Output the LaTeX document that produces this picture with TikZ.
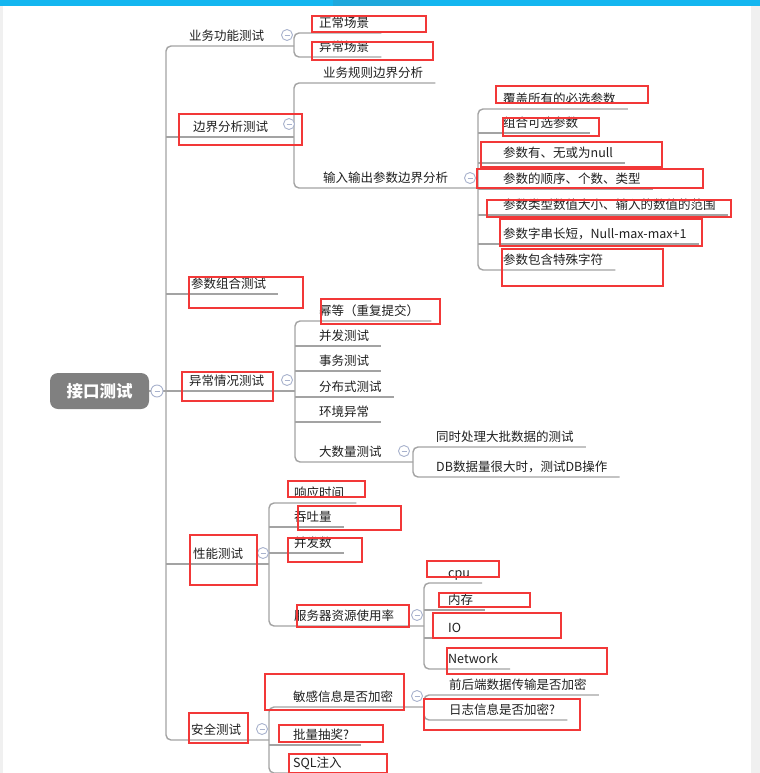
\documentclass[tikz,border=0pt]{standalone}
\usepackage{fontspec}
\setmainfont{Noto Sans CJK SC}
\usepackage{xcolor}
\usepackage{tikz}
\usetikzlibrary{positioning,calc}
\definecolor{linegray}{RGB}{163,163,163}
\definecolor{txtgray}{RGB}{32,32,32}
\definecolor{rootgray}{RGB}{128,128,128}
\definecolor{foldblue}{RGB}{168,178,205}
\definecolor{markred}{RGB}{242,56,56}
\definecolor{topbar}{RGB}{20,182,240}
\definecolor{topbardark}{RGB}{30,168,220}
\definecolor{sidegray}{RGB}{240,240,240}
\tikzset{
  topic/.style={anchor=south west, inner xsep=12bp, inner ysep=3bp, text height=9bp, text depth=2.25bp, text=txtgray, font=\fontsize{12.5bp}{15bp}\selectfont},
  rootbox/.style={rounded corners=8bp, fill=rootgray, text=white, minimum width=99bp, minimum height=36bp, inner sep=0pt, font=\fontsize{16.5bp}{20bp}\selectfont\bfseries},
  branch/.style={draw=linegray, line width=1.4bp, rounded corners=5bp},
  fold/.style={circle, draw=foldblue, line width=0.9bp, fill=white, minimum size=11bp, inner sep=0pt,
    path picture={\draw[foldblue, line width=0.9bp] ([xshift=-2.5bp]path picture bounding box.center) -- ([xshift=2.5bp]path picture bounding box.center);}},
  redbox/.style={draw=markred, line width=2.8bp},
}

\begin{document}
\begin{tikzpicture}[x=1bp, y=-1bp]
  % page frame
  \useasboundingbox (0,0) rectangle (760,773);
  \fill[white] (0,0) rectangle (760,773);
  \fill[topbar] (0,0) rectangle (760,6);
  \fill[topbardark] (333,0) rectangle (420,6);
  \fill[sidegray] (0,6) rectangle (3,773);
  \fill[sidegray] (751,6) rectangle (760,773);

  % junction columns
  \coordinate (jT) at (166,0);
  \coordinate (jA) at (294,0);
  \coordinate (jB) at (294,0);
  \coordinate (jB2) at (478,0);
  \coordinate (jD) at (295,0);
  \coordinate (jD6) at (413,0);
  \coordinate (jE) at (269,0);
  \coordinate (jE4) at (424,0);
  \coordinate (jF) at (269,0);
  \coordinate (jF1) at (424,0);

  % root
  \node[rootbox] (root) at (99.5,391) {接口测试};

  % first level
  \node[topic] (A) at (177,46) {业务功能测试};
  \node[topic] (B) at (181,137) {边界分析测试};
  \node[topic] (C) at (179,294) {参数组合测试};
  \node[topic] (D) at (177,391) {异常情况测试};
  \node[topic] (E) at (181,564) {性能测试};
  \node[topic] (F) at (179,740) {安全测试};

  % 业务功能测试
  \node[topic] (a1) at (307,33) {正常场景};
  \node[topic] (a2) at (307,57) {异常场景};

  % 边界分析测试
  \node[topic] (b1) at (311,83) {业务规则边界分析};
  \node[topic] (b2) at (311,188) {输入输出参数边界分析};
  \node[topic] (k1) at (491,109) {覆盖所有的必选参数};
  \node[topic] (k2) at (491,133) {组合可选参数};
  \node[topic] (k3) at (491,163) {参数有、无或为null};
  \node[topic] (k4) at (491,189) {参数的顺序、个数、类型};
  \node[topic] (k5) at (491,215) {参数类型数值大小、输入的数值的范围};
  \node[topic] (k6) at (491,244) {参数字串长短，Null-max-max+1};
  \node[topic] (k7) at (491,270) {参数包含特殊字符};

  % 异常情况测试
  \node[topic] (d1) at (307,321) {幂等（重复提交）};
  \node[topic] (d2) at (307,346) {并发测试};
  \node[topic] (d3) at (307,371) {事务测试};
  \node[topic] (d4) at (307,397) {分布式测试};
  \node[topic] (d5) at (307,422) {环境异常};
  \node[topic] (d6) at (307,462) {大数量测试};
  \node[topic] (g1) at (424,447) {同时处理大批数据的测试};
  \node[topic] (g2) at (424,477) {DB数据量很大时，测试DB操作};

  % 性能测试
  \node[topic] (e1) at (282,503) {响应时间};
  \node[topic] (e2) at (282,527) {吞吐量};
  \node[topic] (e3) at (282,553) {并发数};
  \node[topic] (e4) at (282,626) {服务器资源使用率};
  \node[topic] (s1) at (436,583) {cpu};
  \node[topic] (s2) at (436,610) {内存};
  \node[topic] (s3) at (436,638) {IO};
  \node[topic] (s4) at (436,669) {Network};

  % 安全测试
  \node[topic] (f1) at (281,707) {敏感信息是否加密};
  \node[topic] (f2) at (281,745) {批量抽奖?};
  \node[topic] (f3) at (281,773) {SQL注入};
  \node[topic] (h1) at (437,695) {前后端数据传输是否加密};
  \node[topic] (h2) at (437,720) {日志信息是否加密?};

  % trunk
  \draw[branch] (root.east) -- (root.east -| jT);
  \draw[branch] (jA |- A.south) -- (jT |- A.south) -- (jT |- F.south) -- (jF |- F.south);
  \draw[branch] (jT |- B.south) -- (jB |- B.south);
  \draw[branch] (jT |- C.south) -- (C.south east);
  \draw[branch] (jT |- D.south) -- (jD |- D.south);
  \draw[branch] (jT |- E.south) -- (jE |- E.south);

  % sub branches
  \draw[branch] (a1.south east) -- (jA |- a1.south) -- (jA |- a2.south) -- (a2.south east);
  \draw[branch] (b1.south east) -- (jB |- b1.south) -- (jB |- b2.south) -- (jB2 |- b2.south);
  \draw[branch] (k1.south east) -- (jB2 |- k1.south) -- (jB2 |- k7.south) -- (k7.south east);
  \foreach \n in {k2,k3,k4,k5,k6}
    \draw[branch] (jB2 |- \n.south) -- (\n.south east);
  \draw[branch] (d1.south east) -- (jD |- d1.south) -- (jD |- d6.south) -- (jD6 |- d6.south);
  \foreach \n in {d2,d3,d4,d5}
    \draw[branch] (jD |- \n.south) -- (\n.south east);
  \draw[branch] (g1.south east) -- (jD6 |- g1.south) -- (jD6 |- g2.south) -- (g2.south east);
  \draw[branch] (e1.south east) -- (jE |- e1.south) -- (jE |- e4.south) -- (jE4 |- e4.south);
  \foreach \n in {e2,e3}
    \draw[branch] (jE |- \n.south) -- (\n.south east);
  \draw[branch] (s1.south east) -- (jE4 |- s1.south) -- (jE4 |- s4.south) -- (s4.south east);
  \foreach \n in {s2,s3}
    \draw[branch] (jE4 |- \n.south) -- (\n.south east);
  \draw[branch] (jF1 |- f1.south) -- (jF |- f1.south) -- (jF |- f3.south) -- (f3.south east);
  \draw[branch] (jF |- f2.south) -- (f2.south east);
  \draw[branch] (h1.south east) -- (jF1 |- h1.south) -- (jF1 |- h2.south) -- (h2.south east);

  % fold buttons
  \node[fold, minimum size=12bp] (f0) at (157,391) {};
  \node[fold] (fA) at ($(jA |- A.south)+(-7,-11)$) {};
  \node[fold] (fB) at ($(jB |- B.south)+(-5,-13)$) {};
  \node[fold] (fB2) at ($(jB2 |- b2.south)+(-8,-10)$) {};
  \node[fold] (fD) at ($(jD |- D.south)+(-8,-11)$) {};
  \node[fold] (fD6) at ($(jD6 |- d6.south)+(-9,-11)$) {};
  \node[fold] (fE) at ($(jE |- E.south)+(-6,-11)$) {};
  \node[fold] (fE4) at ($(jE4 |- e4.south)+(-7,-11)$) {};
  \node[fold] (fF) at ($(jF |- F.south)+(-7,-11)$) {};
  \node[fold] (fF1) at ($(jF1 |- f1.south)+(-7,-11)$) {};

  % red marks
  \draw[redbox] (312,16) rectangle (426,32);
  \draw[redbox] (312,42) rectangle (433,60);
  \draw[redbox] (179,114) rectangle (302,145);
  \draw[redbox] (496,86) rectangle (648,103);
  \draw[redbox] (503,118) rectangle (599,136);
  \draw[redbox] (481,142) rectangle (662,167);
  \draw[redbox] (477,169) rectangle (703,188);
  \draw[redbox] (487,200) rectangle (731,217);
  \draw[redbox] (500,219) rectangle (702,246);
  \draw[redbox] (502,249) rectangle (663,286);
  \draw[redbox] (189,277) rectangle (303,308);
  \draw[redbox] (321,299) rectangle (440,324);
  \draw[redbox] (182,372) rectangle (273,401);
  \draw[redbox] (288,481) rectangle (365,497);
  \draw[redbox] (298,506) rectangle (401,530);
  \draw[redbox] (288,538) rectangle (362,562);
  \draw[redbox] (190,535) rectangle (257,585);
  \draw[redbox] (297,605) rectangle (409,627);
  \draw[redbox] (427,561) rectangle (499,577);
  \draw[redbox] (439,593) rectangle (530,607);
  \draw[redbox] (433,613) rectangle (561,638);
  \draw[redbox] (447,648) rectangle (607,674);
  \draw[redbox] (265,674) rectangle (404,710);
  \draw[redbox] (424,699) rectangle (580,730);
  \draw[redbox] (189,713) rectangle (248,743);
  \draw[redbox] (279,725) rectangle (383,742);
  \draw[redbox] (289,754) rectangle (387,773);
\end{tikzpicture}
\end{document}
